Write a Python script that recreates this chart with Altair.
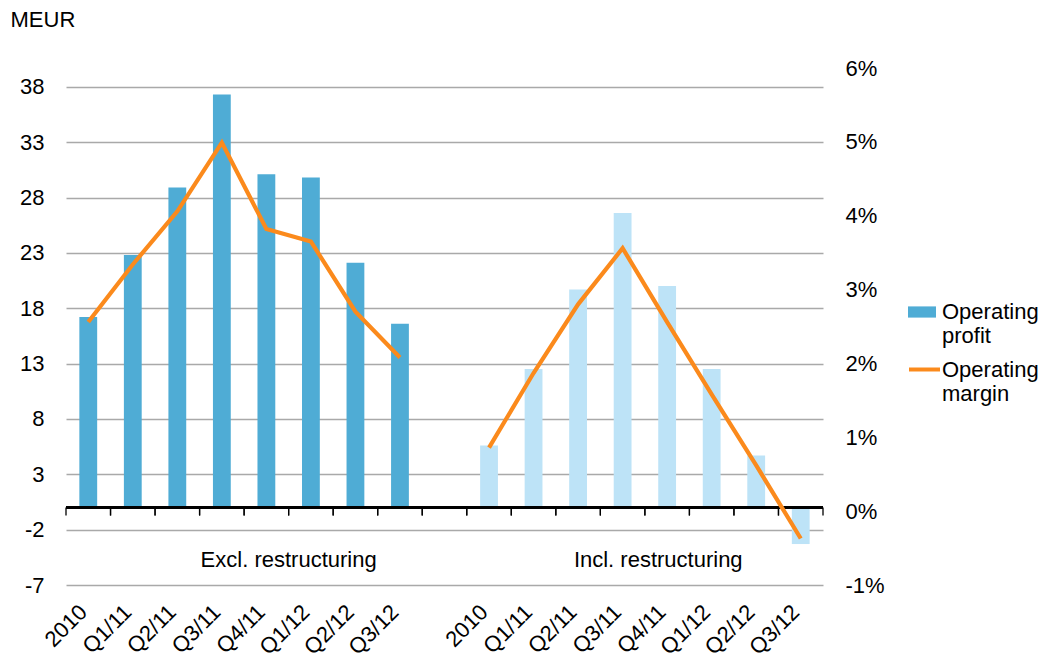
import altair as alt
import pandas as pd

# Quarterly operating profit (MEUR) and operating margin (%)
periods = ["2010", "Q1/11", "Q2/11", "Q3/11", "Q4/11", "Q1/12", "Q2/12", "Q3/12"]
profit_excl = [17.2, 22.8, 28.9, 37.3, 30.1, 29.8, 22.1, 16.6]
profit_incl = [5.6, 12.5, 19.7, 26.6, 20.0, 12.5, 4.7, -3.3]
margin_excl = [2.56, 3.34, 4.06, 4.99, 3.82, 3.65, 2.70, 2.08]
margin_incl = [0.86, 1.87, 2.80, 3.56, 2.56, 1.58, 0.62, -0.37]
group_labels = ["Excl. restructuring", "Incl. restructuring"]
left_ticks = [-7, -2, 3, 8, 13, 18, 23, 28, 33, 38]
right_ticks = [-1, 0, 1, 2, 3, 4, 5, 6]

FONT = "Liberation Sans"
DARK = "#4FACD5"
LIGHT = "#BDE3F7"
ORANGE = "#FB8A1C"
GRID = "#A9A9A9"
GROUP_LABEL_Y = -4.75

keys_excl = ["excl|" + p for p in periods]
keys_incl = ["incl|" + p for p in periods]
slots = keys_excl + ["gap"] + keys_incl

rows = []
for k, v, m in zip(keys_excl, profit_excl, margin_excl):
    rows.append({"slot": k, "group": "excl", "profit": v, "margin": m,
                 "series": "Operating profit", "lseries": "Operating margin"})
for k, v, m in zip(keys_incl, profit_incl, margin_incl):
    rows.append({"slot": k, "group": "incl", "profit": v, "margin": m,
                 "series": "Operating profit incl.", "lseries": "Operating margin"})
df = pd.DataFrame(rows)

x_scale = alt.Scale(domain=slots, paddingInner=0, paddingOuter=0)


def left_scale():
    return alt.Scale(domain=[-7, 39.7], nice=False, zero=False)


right_scale = alt.Scale(domain=[-1, 6], nice=False, zero=False)

bars = alt.Chart(df).mark_bar(width={"band": 0.4}).encode(
    x=alt.X(
        "slot:N", scale=x_scale, sort=slots, title=None,
        axis=alt.Axis(
            orient="bottom",
            labelExpr="indexof(datum.value, '|') >= 0 ? split(datum.value, '|')[1] : ''",
            labelAngle=-45, labelFontSize=22, labelFont=FONT, labelColor="black",
            labelPadding=16, labelOffset=-12, ticks=False,
            labelOverlap=False, labelBound=False, labelFlush=False,
            domain=False, grid=False,
        ),
    ),
    y=alt.Y(
        "profit:Q", scale=left_scale(),
        axis=alt.Axis(
            orient="left", values=left_ticks, labelExpr="datum.value + ''",
            grid=True, gridColor=GRID, gridWidth=1.3,
            domain=False, ticks=False, labelFontSize=22, labelFont=FONT,
            labelColor="black", labelPadding=22,
            title="MEUR", titleAngle=0, titleAlign="left", titleBaseline="alphabetic",
            titleX=-56, titleY=-42, titleFontSize=22, titleFontWeight="normal",
            titleFont=FONT, titleColor="black",
        ),
    ),
    fill=alt.Fill(
        "series:N",
        scale=alt.Scale(domain=["Operating profit", "Operating profit incl."], range=[DARK, LIGHT]),
        legend=alt.Legend(
            values=["Operating profit"], title=None, orient="none",
            legendX=842, legendY=230, padding=0,
            labelExpr="split(datum.label, ' ')",
            symbolType="M-1,-0.4H1V0.4H-1Z", symbolSize=784, symbolStrokeWidth=0,
            labelFontSize=22, labelFont=FONT, labelColor="black", labelOffset=6,
        ),
    ),
)

axis_df = pd.DataFrame({"slot": slots, "zero": [0] * len(slots)})

zero_line = alt.Chart(axis_df).mark_rule(color="black", strokeWidth=2).encode(
    y=alt.Y("zero:Q", scale=left_scale(), axis=None),
)


def tick_layer(pos):
    return alt.Chart(axis_df).mark_rule(color="black", strokeWidth=1.3, y2Offset=8).encode(
        x=alt.X("slot:N", scale=x_scale, sort=slots, bandPosition=pos, axis=None),
        y=alt.Y("zero:Q", scale=left_scale(), axis=None),
        y2="zero:Q",
    )


def group_text(label, slot, pos):
    tdf = pd.DataFrame({"slot": [slot], "label": [label], "ypos": [GROUP_LABEL_Y]})
    return alt.Chart(tdf).mark_text(
        fontSize=22, font=FONT, color="black", align="center", baseline="middle"
    ).encode(
        x=alt.X("slot:N", scale=x_scale, sort=slots, bandPosition=pos, axis=None),
        y=alt.Y("ypos:Q", scale=left_scale(), axis=None),
        text="label:N",
    )


line = alt.Chart(df).mark_line(strokeWidth=4.2).encode(
    x=alt.X("slot:N", scale=x_scale, sort=slots, axis=None),
    y=alt.Y(
        "margin:Q", scale=right_scale, title=None,
        axis=alt.Axis(
            orient="right", values=right_ticks, labelExpr="datum.value + '%'",
            grid=False, domain=False, ticks=False, labelFontSize=22,
            labelFont=FONT, labelColor="black", labelPadding=22,
        ),
    ),
    detail="group:N",
    stroke=alt.Stroke(
        "lseries:N", scale=alt.Scale(range=[ORANGE]),
        legend=alt.Legend(
            title=None, orient="none", legendX=841, legendY=284, padding=0,
            labelExpr="split(datum.label, ' ')",
            symbolType="stroke", symbolSize=961, symbolStrokeWidth=4,
            labelFontSize=22, labelFont=FONT, labelColor="black", labelOffset=0,
        ),
    ),
)

chart = alt.layer(
    bars,
    zero_line,
    tick_layer(0),
    tick_layer(1),
    group_text(group_labels[0], "excl|Q1/12", 0),
    group_text(group_labels[1], "incl|Q4/11", 0.3),
    line,
).resolve_scale(y="independent").resolve_axis(x="independent", y="independent").properties(
    width=757,
    height=517,
    padding={"left": 66, "top": 68, "right": 226, "bottom": 74},
    autosize=alt.AutoSizeParams(type="none"),
).configure_view(stroke=None)

chart.save("out.html", embed_options={"renderer": "svg", "actions": False})
